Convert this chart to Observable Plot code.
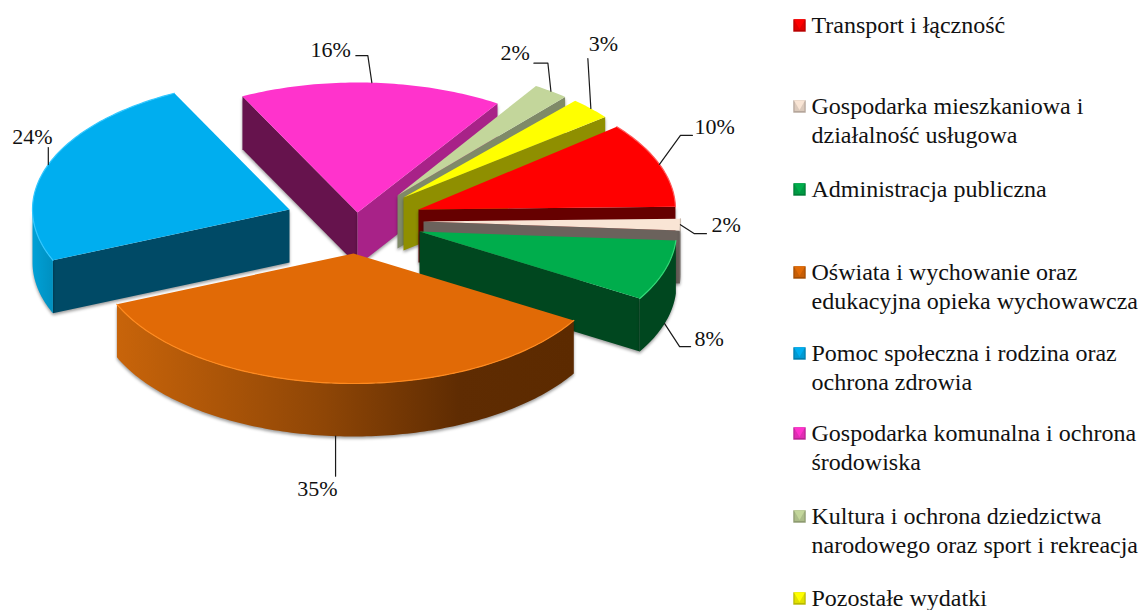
<!DOCTYPE html>
<html>
<head>
<meta charset="utf-8">
<script src="https://cdn.jsdelivr.net/npm/d3@7"></script>
<script src="https://cdn.jsdelivr.net/npm/@observablehq/plot@0.6"></script>
<style>
  html, body { margin: 0; padding: 0; background: #fff; }
  .wall path { filter: drop-shadow(0 2px 1.5px rgba(0,0,0,.38)); }
</style>
</head>
<body>
<div id="chart"></div>
<script>
// --- data ---
const categories = ["Transport i łączność", "Gospodarka mieszkaniowa i\ndziałalność usługowa", "Administracja publiczna",
  "Oświata i wychowanie oraz\nedukacyjna opieka wychowawcza", "Pomoc społeczna i rodzina oraz\nochrona zdrowia",
  "Gospodarka komunalna i ochrona\nśrodowiska", "Kultura i ochrona dziedzictwa\nnarodowego oraz sport i rekreacja", "Pozostałe wydatki"];
const shares = [10, 2, 8, 35, 24, 16, 2, 3];

// --- style and layout of the pseudo-3D pie ---
const topColors  = ["#ff0000", "#f9e5d5", "#00ad4c", "#e16a06", "#00aeef", "#ff33cc", "#c3d69b", "#ffff00"];
const startFaces = [null, null, null, null, "#004a66", "#66134d", null, null];
const endFaces   = ["#660000", "#6b625c", "#00471f", null, null, "#a82288", "#7f8a68", "#8f8f00"];
const rimFills   = ["#660000", "#6b625c", "#00471f", "url(#rimOrange)", "url(#rimBlue)", "#66134d", "#7f8a68", "#8f8f00"];
const edgeColors = ["#ff5959", "#cbbcb0", "#33d977", "#ff8a1f", "#33c8ff", null, null, null];
const apexX = [418, 423, 419, 353, 289, 357, 397, 403];
const apexY = [209, 221, 231, 253, 209, 212, 195, 197];
const startNudge = [1.5, 3.8, 1.8, 0, 0, 0, 1.6, 3.7];
const endNudge   = [3.8, 1.8, 0, 0, 0, 2, 2.5, 2.7];
const firstAngle = 49, radiusX = 257, radiusY = 130, depth = 53;
const drawOrder = [5, 4, 6, 7, 0, 1, 2, 3];
// leader bend and end, then label anchor, all relative to the rim point
const bendDx = [21, 14, 15, 0, 0, -4, -3, -3];
const bendDy = [-29, 9, 23, 40, -17, -27, -28, -50];
const endDx  = [33, 26, 26, 0, 0, -16, -17, -3];
const endDy  = [-29, 9, 23, 40, -17, -27, -28, -50];
const textDx = [35, 31, 30, 2, -16, -21, -21, -2];
const textDy = [-37, 0, 15, 53, -28, -33, -38, -65];
const textAnchors = ["start", "start", "start", "end", "middle", "end", "end", "start"];
const legendY = [25, 106, 189, 272, 353, 433, 516, 598];
const serif = "Liberation Serif, Times New Roman, serif";

// --- geometry derived from the shares ---
const rad = d => d * Math.PI / 180;
let running = firstAngle;
const slices = shares.map((v, i) => {
  const span = v / d3.sum(shares) * 360;
  const s = {i, v, cx: apexX[i], cy: apexY[i], a0: running + startNudge[i], a1: running + span + endNudge[i]};
  running += span;
  return s;
});
const rimPoint = (s, a, drop = 0) => ({x: s.cx + radiusX * Math.sin(rad(a)), y: s.cy - radiusY * Math.cos(rad(a)) + drop});
const arc = (s, a0, a1, drop = 0) => {
  const n = Math.max(2, Math.ceil(Math.abs(a1 - a0)));
  return d3.range(n + 1).map(k => rimPoint(s, a0 + (a1 - a0) * k / n, drop));
};
const shape = (pts, fill, className) => Plot.line(pts, {x: "x", y: "y", fill, stroke: "none", curve: "linear", className});
const face = (s, a, fill) => shape([{x: s.cx, y: s.cy}, rimPoint(s, a), rimPoint(s, a, depth), {x: s.cx, y: s.cy + depth}], fill, "wall");

const pieMarks = drawOrder.flatMap(i => {
  const s = slices[i], marks = [];
  if (startFaces[i]) marks.push(face(s, s.a0, startFaces[i]));
  if (endFaces[i]) marks.push(face(s, s.a1, endFaces[i]));
  const f0 = Math.max(s.a0, 90), f1 = Math.min(s.a1, 270);
  if (f1 > f0) marks.push(shape([...arc(s, f0, f1), ...arc(s, f1, f0, depth)], rimFills[i], "wall"));
  marks.push(shape([{x: s.cx, y: s.cy}, ...arc(s, s.a0, s.a1)], topColors[i]));
  if (edgeColors[i]) {
    marks.push(Plot.line(arc(s, s.a0, s.a1), {x: "x", y: "y", stroke: edgeColors[i], strokeWidth: 1.2, curve: "linear"}));
  }
  return marks;
});

const leaders = slices.flatMap(s => {
  const mid = (s.a0 + s.a1) / 2;
  const p = rimPoint(s, mid, mid > 95 && mid < 270 ? depth : 0);
  return [p, {x: p.x + bendDx[s.i], y: p.y + bendDy[s.i]}, {x: p.x + endDx[s.i], y: p.y + endDy[s.i]}].map(q => ({...q, z: s.i}));
});
const labels = slices.map(s => {
  const mid = (s.a0 + s.a1) / 2;
  const p = rimPoint(s, mid, mid > 95 && mid < 270 ? depth : 0);
  return {x: p.x + textDx[s.i], y: p.y + textDy[s.i], text: s.v + "%", anchor: textAnchors[s.i]};
});
const legend = categories.map((text, i) => ({
  text, y: legendY[i], color: topColors[i],
  mid: d3.color(topColors[i]).darker(0.35).formatHex(),
  dark: d3.color(topColors[i]).darker(0.9).formatHex()
}));

const gradient = (id, stops) => () => {
  const defs = d3.create("svg:defs");
  const g = defs.append("linearGradient").attr("id", id);
  stops.forEach(([o, c]) => g.append("stop").attr("offset", o).attr("stop-color", c));
  return defs.node();
};

const plot = Plot.plot({
  width: 1141, height: 610, margin: 0,
  x: {domain: [0, 1141], range: [0, 1141], axis: null},
  y: {domain: [0, 610], range: [0, 610], axis: null},
  style: {background: "transparent"},
  marks: [
    gradient("rimOrange", [[0, "#c8640a"], [0.45, "#8f4606"], [0.75, "#5f2c02"], [1, "#5c2a00"]]),
    gradient("rimBlue", [[0, "#00a0d6"], [1, "#0090c0"]]),
    ...pieMarks,
    Plot.line(leaders, {x: "x", y: "y", z: "z", stroke: "#1a1a1a", strokeWidth: 1.2, curve: "linear"}),
    ...["start", "middle", "end"].map(a => Plot.text(labels.filter(d => d.anchor === a), {
      x: "x", y: "y", text: "text", textAnchor: a, fontFamily: serif, fontSize: 22, fill: "#111"})),
    Plot.dot(legend, {x: () => 799, y: "y", symbol: "square", r: 7, fill: "dark"}),
    Plot.dot(legend, {x: () => 799, y: d => d.y - 0.5, symbol: "square", r: 5.6, fill: "mid"}),
    Plot.dot(legend, {x: () => 799, y: d => d.y - 3, symbol: "triangle", r: 4.2, rotate: 180, fill: "color"}),
    Plot.text(legend, {x: () => 811, y: d => d.y - 13, text: "text", textAnchor: "start", lineAnchor: "top", lineHeight: 1.2,
      fontFamily: serif, fontSize: 24, fill: "#111"})
  ]
});
document.getElementById("chart").append(plot);
</script>
</body>
</html>
